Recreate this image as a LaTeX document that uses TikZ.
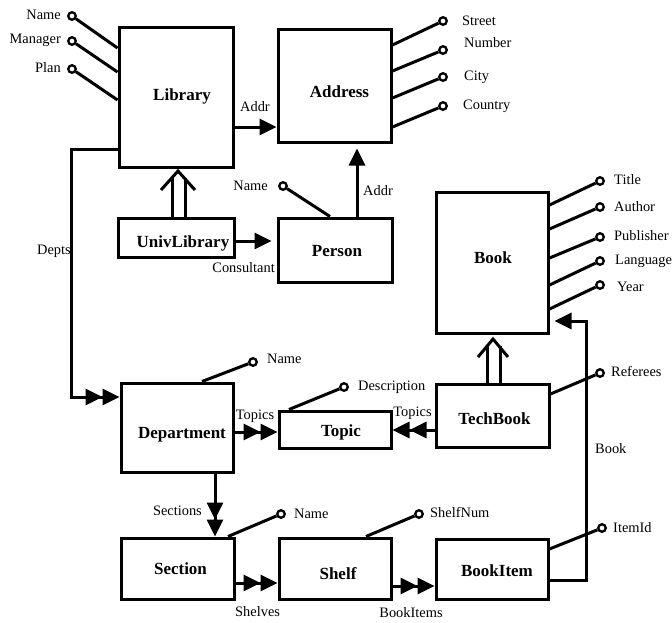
\documentclass[tikz,border=0pt]{standalone}
\usepackage{fontspec}
\setmainfont{Liberation Serif}
\usetikzlibrary{arrows.meta}
\tikzset{
  conn/.style={line width=3pt},
  box/.style={draw, line width=3pt, inner sep=0pt},
  attr/.style={circle, draw, fill=white, line width=2.3pt, minimum size=7.5pt, inner sep=0pt},
  lbl/.style={font=\fontsize{14.4}{16}\selectfont, inner sep=0pt, text height=9.5pt, text depth=0pt},
  title/.style={font=\fontsize{17}{19}\selectfont\bfseries, inner sep=0pt, text height=11.3pt, text depth=0pt},
  arr/.style={conn, -{Triangle[length=17pt,width=16pt]}},
  gaparr/.style={arr, shorten >=5pt},
  darr/.style={conn, -{Triangle[length=17pt,width=16pt]Triangle[length=17pt,width=16pt]}},
}
\begin{document}
\begin{tikzpicture}[x=1pt,y=-1pt]
\useasboundingbox (0,0) rectangle (672,622);

% classes
\node[box, minimum width=114pt, minimum height=140pt, label={[title, shift={(6,-2)}]center:Library}] (lib) at (176,97) {};
\node[box, minimum width=113pt, minimum height=113pt, label={[title, shift={(5,6)}]center:Address}] (addr) at (334.5,85.5) {};
\node[box, minimum width=116pt, minimum height=39pt, label={[title, shift={(7,4)}]center:UnivLibrary}] (univ) at (176,237.5) {};
\node[box, minimum width=114pt, minimum height=64pt, label={[title, shift={(2,1)}]center:Person}] (person) at (335,250) {};
\node[box, minimum width=112pt, minimum height=141pt, label={[title, shift={(1,-5)}]center:Book}] (book) at (492,262.5) {};
\node[box, minimum width=112pt, minimum height=89pt, label={[title, shift={(5,5)}]center:Department}] (dept) at (177,427.5) {};
\node[box, minimum width=112pt, minimum height=37pt, label={[title, shift={(6,1)}]center:Topic}] (topic) at (335,429.5) {};
\node[box, minimum width=113pt, minimum height=63pt, label={[title, shift={(2,3)}]center:TechBook}] (tech) at (492.5,415.5) {};
\node[box, minimum width=113pt, minimum height=61pt, label={[title, shift={(3,0)}]center:Section}] (section) at (177.5,568.5) {};
\node[box, minimum width=112pt, minimum height=61pt, label={[title, shift={(3,5)}]center:Shelf}] (shelf) at (335,568.5) {};
\node[box, minimum width=112pt, minimum height=60pt, label={[title, shift={(5,2)}]center:BookItem}] (item) at (492,569) {};

% attributes of Library
\foreach \n/\ys/\yc/\yl/\t in {lName/48/16/15/Name, lMgr/72/41/39/Manager, lPlan/100/69/68/Plan}{
  \node[attr] (\n) at (72,\yc) {};
  \node[lbl, anchor=east] at (61,\yl) {\t};
  \draw[conn] (lib.west |- 0,\ys) -- (\n);
}
% attributes of Address
\foreach \n/\ys/\yc/\xl/\yl/\t in {aSt/45/21/462/21/Street, aNum/71/50/464/43/Number, aCity/98/77/464/76/City, aCtry/127/106/463/105/Country}{
  \node[attr] (\n) at (443,\yc) {};
  \node[lbl, anchor=west] at (\xl,\yl) {\t};
  \draw[conn] (addr.east |- 0,\ys) -- (\n);
}
% attributes of Book
\foreach \n/\ys/\yc/\xl/\yl/\t in {bTit/205/181/614/180/Title, bAut/229/207/614/207/Author, bPub/258/237/614/236/Publisher, bLang/285/261/615/260/Language, bYear/309/285/617/287/Year}{
  \node[attr] (\n) at (600,\yc) {};
  \node[lbl, anchor=west] at (\xl,\yl) {\t};
  \draw[conn] (book.east |- 0,\ys) -- (\n);
}
% remaining attributes
\node[attr] (pName) at (283,186) {};
\node[lbl, anchor=east] at (268,186) {Name};
\draw[conn] (person.north -| 330,0) -- (pName);

\node[attr] (dName) at (253,362) {};
\node[lbl, anchor=west] at (267,359) {Name};
\draw[conn] (dept.north -| 202,0) -- (dName);

\node[attr] (tDesc) at (344,387) {};
\node[lbl, anchor=west] at (358,386) {Description};
\draw[conn] (topic.north -| 289,0) -- (tDesc);

\node[attr] (tbRef) at (600,373) {};
\node[lbl, anchor=west] at (611,372) {Referees};
\draw[conn] (tech.east |- 0,394) -- (tbRef);

\node[attr] (sName) at (281,514) {};
\node[lbl, anchor=west] at (294,514) {Name};
\draw[conn] (section.north -| 228,0) -- (sName);

\node[attr] (shNum) at (419,514) {};
\node[lbl, anchor=west] at (430,513) {ShelfNum};
\draw[conn] (shelf.north -| 366,0) -- (shNum);

% references
\draw[arr] (lib.east |- 0,127) -- (addr.west |- 0,127);
\node[lbl, anchor=west] at (240,107) {Addr};

\draw[gaparr] (person.north -| 357,0) -- (addr.south -| 357,0);
\node[lbl, anchor=west] at (363,191) {Addr};

\draw[gaparr] (univ.east |- 0,241) -- (person.west |- 0,241);
\node[lbl, anchor=east] at (275,268) {Consultant};

\draw[darr] (lib.west |- 0,149) -- ++(-46,0) |- (dept.west |- 0,397);
\node[lbl, anchor=east] at (71,250) {Depts};

\draw[darr] (dept.east |- 0,432) -- (topic.west |- 0,432);
\node[lbl] at (255,415) {Topics};

\draw[darr] (tech.west |- 0,430) -- (topic.east |- 0,430);
\node[lbl] at (412.5,412) {Topics};

\draw[darr] (dept.south -| 215,0) -- (section.north -| 215,0);
\node[lbl, anchor=east] at (202,511) {Sections};

\draw[darr] (section.east |- 0,583) -- (shelf.west |- 0,583);
\node[lbl, anchor=west] at (235,612) {Shelves};

\draw[darr] (shelf.east |- 0,586) -- (item.west |- 0,586);
\node[lbl] at (411,613) {BookItems};

\draw[gaparr] (item.east |- 0,580) -- ++(37,0) |- (book.east |- 0,321);
\node[lbl, anchor=west] at (595,449) {Book};

\node[attr] (iId) at (602,528) {};
\node[lbl, anchor=west] at (613,528) {ItemId};
\draw[conn] (item.east |- 0,549) -- (iId);

% inheritance: UnivLibrary is a Library
\draw[conn] (univ.north -| 172,0) -- (172,178);
\draw[conn] (univ.north -| 185,0) -- (185,178);
\draw[conn] (161,190) -- (178,171) -- (195,190);

% inheritance: TechBook is a Book
\draw[conn] (tech.north -| 487,0) -- (487,346);
\draw[conn] (tech.north -| 500,0) -- (500,346);
\draw[conn] (478,357) -- (493,339) -- (508,357);
\end{tikzpicture}
\end{document}
